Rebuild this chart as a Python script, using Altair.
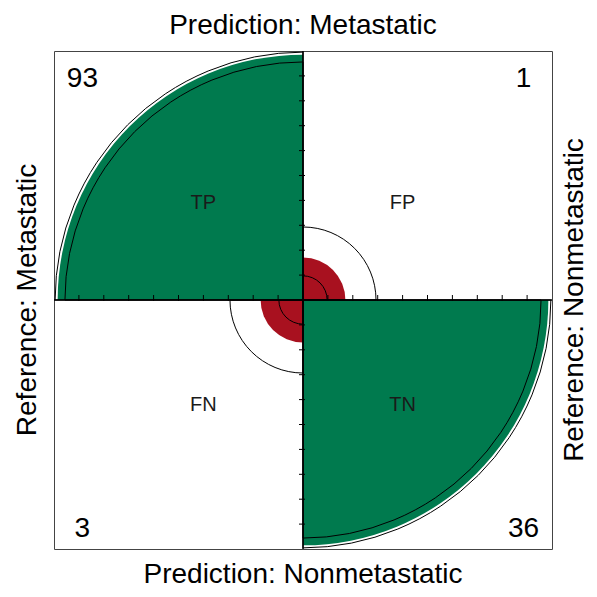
import math
import altair as alt
import pandas as pd

# ---------------- data ----------------
cells = ["TP", "FP", "FN", "TN"]
counts = [93, 1, 3, 36]
# margin-standardised cell proportions (fourfold display)
std_props = [0.971, 0.029, 0.029, 0.971]
# 95% confidence rings (standardised proportions at the odds-ratio limits)
ring_lower = [0.914, 0.086, 0.086, 0.914]
ring_upper = [0.991, 0.0094, 0.0094, 0.991]
top_title = "Prediction: Metastatic"
bottom_title = "Prediction: Nonmetastatic"
left_title = "Reference: Metastatic"
right_title = "Reference: Nonmetastatic"
tick_fracs = [0.1, 0.2, 0.3, 0.4, 0.5, 0.6, 0.7, 0.8, 0.9]

# ---------------- layout ----------------
W = 498
R = W / 2
PI = math.pi
FONT = "Liberation Sans"
TITLE_SIZE = 28
quad_angles = {"TP": (1.5 * PI, 2 * PI), "FP": (0.0, 0.5 * PI),
               "TN": (0.5 * PI, PI), "FN": (PI, 1.5 * PI)}
quad_sign = {"TP": (-1, 1), "FP": (1, 1), "FN": (-1, -1), "TN": (1, -1)}
label_y = {1: 0.365, -1: -0.445}
corner_y = {1: 0.855, -1: -0.95}
cell_colors = ["#007A4E", "#A8111F", "#A8111F", "#007A4E"]

rows = []
ring_rows = []
for c, n, p, lo, hi in zip(cells, counts, std_props, ring_lower, ring_upper):
    t0, t1 = quad_angles[c]
    sx, sy = quad_sign[c]
    rows.append(dict(cell=c, count=str(n), prop=p, t0=t0, t1=t1,
                     lx=0.4 * sx, ly=label_y[sy], cx=0.886 * sx, cy=corner_y[sy]))
    for r in (lo, hi):
        ring_rows.append(dict(cell=c, r=r, t0=t0, t1=t1))
df = pd.DataFrame(rows)
ring_df = pd.DataFrame(ring_rows)

lines_df = pd.DataFrame([dict(x0=-1, x1=1, y0=0, y1=0), dict(x0=0, x1=0, y0=-1, y1=1)])
htick_df = pd.DataFrame({"pos": [s * f for s in (-1, 1) for f in tick_fracs]})
vtick_df = pd.DataFrame({"pos": [s * f for s in (-1, 1) for f in tick_fracs]})

horiz_titles = pd.DataFrame([dict(text=top_title, x=0, y=1.068),
                             dict(text=bottom_title, x=0, y=-1.1365)])
vert_titles = pd.DataFrame([dict(text=left_title, x=-1.072, y=0),
                            dict(text=right_title, x=1.1245, y=0)])

xs = alt.Scale(domain=[-1, 1], nice=False, zero=False)
ys = alt.Scale(domain=[-1, 1], nice=False, zero=False)
rs = alt.Scale(type="sqrt", domain=[0, 1], range=[0, R], zero=True)


def X(f):
    return alt.X(f, type="quantitative", scale=xs, axis=None)


def Y(f):
    return alt.Y(f, type="quantitative", scale=ys, axis=None)


def XD(v):
    return alt.XDatum(v, type="quantitative", scale=xs, axis=None)


def YD(v):
    return alt.YDatum(v, type="quantitative", scale=ys, axis=None)


fills = alt.Chart(df).mark_arc(strokeWidth=0).encode(
    x=XD(0), y=YD(0),
    theta=alt.Theta("t0:Q", scale=None, stack=False),
    theta2=alt.Theta2("t1:Q"),
    radius=alt.Radius("prop:Q", scale=rs),
    color=alt.Color("cell:N", scale=alt.Scale(domain=cells, range=cell_colors), legend=None),
)

rings = alt.Chart(ring_df).mark_arc(filled=False, stroke="black", strokeWidth=1).encode(
    x=XD(0), y=YD(0),
    theta=alt.Theta("t0:Q", scale=None, stack=False),
    theta2=alt.Theta2("t1:Q"),
    radius=alt.Radius("r:Q", scale=rs),
)

center_lines = alt.Chart(lines_df).mark_rule(color="black", strokeWidth=1.5).encode(
    x=X("x0"), x2="x1", y=Y("y0"), y2="y1"
)

hticks = alt.Chart(htick_df).mark_rule(color="black", strokeWidth=1, yOffset=-5, y2Offset=1).encode(
    x=X("pos"), y=YD(0), y2=alt.Y2Datum(0)
)
vticks = alt.Chart(vtick_df).mark_rule(color="black", strokeWidth=1, xOffset=-4, x2Offset=2).encode(
    y=Y("pos"), x=XD(0), x2=alt.X2Datum(0)
)

cell_labels = alt.Chart(df).mark_text(font=FONT, fontSize=20, color="#1a1a1a",
                                      align="center", baseline="alphabetic").encode(
    x=X("lx"), y=Y("ly"), text="cell:N"
)
corner_counts = alt.Chart(df).mark_text(font=FONT, fontSize=28, color="black",
                                        align="center", baseline="alphabetic").encode(
    x=X("cx"), y=Y("cy"), text="count:N"
)
h_titles = alt.Chart(horiz_titles).mark_text(font=FONT, fontSize=TITLE_SIZE, color="black",
                                             align="center", baseline="alphabetic").encode(
    x=X("x"), y=Y("y"), text="text:N"
)
v_titles = alt.Chart(vert_titles).mark_text(font=FONT, fontSize=TITLE_SIZE, color="black", angle=270,
                                            align="center", baseline="alphabetic").encode(
    x=X("x"), y=Y("y"), text="text:N"
)

chart = alt.layer(
    fills, rings, center_lines, hticks, vticks, cell_labels, corner_counts, h_titles, v_titles
).properties(
    width=W, height=W,
    autosize=alt.AutoSizeParams(type="none"),
    padding={"left": 46, "top": 43, "right": 37, "bottom": 40},
    background="white",
).configure_view(stroke="#444", strokeWidth=1)

chart.save("out.html", embed_options={"renderer": "svg", "actions": False})
